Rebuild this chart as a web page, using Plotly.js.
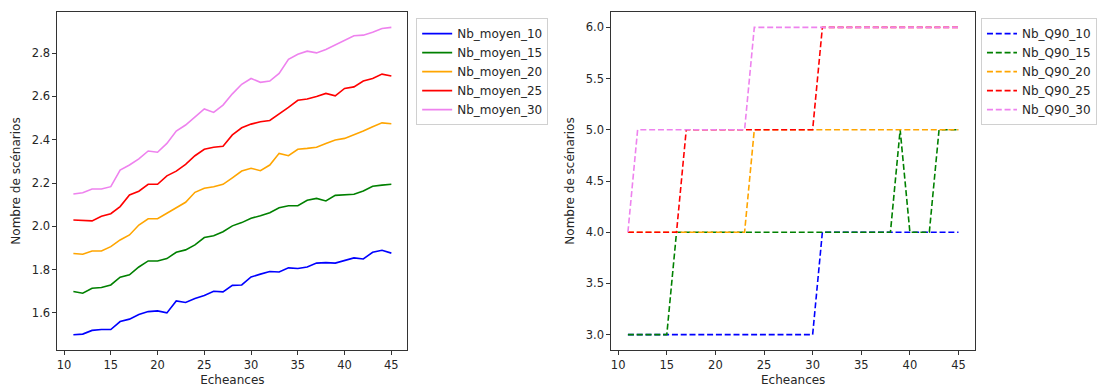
<!DOCTYPE html>
<html>
<head>
<meta charset="utf-8">
<script src="https://cdn.plot.ly/plotly-3.0.1.min.js"></script>
<style>html,body{margin:0;padding:0;background:#fff;}#chart{width:1097px;height:388px;}</style>
</head>
<body>
<div id="chart"></div>
<script>
const echeances = [11,12,13,14,15,16,17,18,19,20,21,22,23,24,25,26,27,28,29,30,31,32,33,34,35,36,37,38,39,40,41,42,43,44,45];

const nbMoyen10 = [1.499,1.502,1.519,1.523,1.523,1.560,1.571,1.592,1.606,1.609,1.600,1.655,1.648,1.666,1.680,1.700,1.697,1.727,1.729,1.766,1.779,1.791,1.789,1.808,1.805,1.812,1.830,1.832,1.830,1.843,1.854,1.849,1.880,1.889,1.876];
const nbMoyen15 = [1.699,1.691,1.714,1.717,1.729,1.765,1.776,1.812,1.840,1.840,1.851,1.880,1.891,1.914,1.948,1.956,1.975,2.002,2.017,2.037,2.049,2.063,2.086,2.095,2.095,2.120,2.129,2.117,2.143,2.145,2.148,2.163,2.185,2.190,2.194];
const nbMoyen20 = [1.874,1.871,1.886,1.886,1.906,1.937,1.960,2.006,2.035,2.035,2.060,2.086,2.111,2.157,2.176,2.183,2.194,2.224,2.255,2.268,2.257,2.283,2.337,2.326,2.356,2.360,2.365,2.383,2.399,2.406,2.422,2.440,2.460,2.478,2.474];
const nbMoyen25 = [2.029,2.028,2.025,2.046,2.058,2.091,2.145,2.162,2.194,2.194,2.233,2.255,2.286,2.326,2.356,2.365,2.370,2.422,2.455,2.472,2.483,2.489,2.517,2.549,2.582,2.588,2.600,2.614,2.603,2.637,2.644,2.671,2.683,2.703,2.694];
const nbMoyen30 = [2.149,2.155,2.172,2.172,2.183,2.260,2.283,2.311,2.348,2.342,2.383,2.440,2.468,2.506,2.542,2.526,2.560,2.612,2.656,2.683,2.665,2.671,2.706,2.771,2.795,2.809,2.801,2.817,2.837,2.860,2.880,2.883,2.896,2.914,2.919];

const nbQ90_10 = [3,3,3,3,3,3,3,3,3,3,3,3,3,3,3,3,3,3,3,3,4,4,4,4,4,4,4,4,4,4,4,4,4,4,4];
const nbQ90_15 = [3,3,3,3,3,4,4,4,4,4,4,4,4,4,4,4,4,4,4,4,4,4,4,4,4,4,4,4,5,4,4,4,5,5,5];
const nbQ90_20 = [4,4,4,4,4,4,4,4,4,4,4,4,4,5,5,5,5,5,5,5,5,5,5,5,5,5,5,5,5,5,5,5,5,5,5];
const nbQ90_25 = [4,4,4,4,4,4,5,5,5,5,5,5,5,5,5,5,5,5,5,5,6,6,6,6,6,6,6,6,6,6,6,6,6,6,6];
const nbQ90_30 = [4,5,5,5,5,5,5,5,5,5,5,5,5,6,6,6,6,6,6,6,6,6,6,6,6,6,6,6,6,6,6,6,6,6,6];

const namesMoyen = ['Nb_moyen_10','Nb_moyen_15','Nb_moyen_20','Nb_moyen_25','Nb_moyen_30'];
const namesQ90 = ['Nb_Q90_10','Nb_Q90_15','Nb_Q90_20','Nb_Q90_25','Nb_Q90_30'];
const colors = ['#0000ff','#008000','#ffa500','#ff0000','#ee82ee'];

const moyenSeries = [nbMoyen10,nbMoyen15,nbMoyen20,nbMoyen25,nbMoyen30];
const q90Series = [nbQ90_10,nbQ90_15,nbQ90_20,nbQ90_25,nbQ90_30];

const traces = [];
moyenSeries.forEach((ys,i)=>{
  traces.push({x:echeances,y:ys,name:namesMoyen[i],type:'scatter',mode:'lines',
    line:{color:colors[i],width:1.6},xaxis:'x',yaxis:'y',legend:'legend'});
});
q90Series.forEach((ys,i)=>{
  traces.push({x:echeances,y:ys,name:namesQ90[i],type:'scatter',mode:'lines',
    line:{color:colors[i],width:1.6,dash:'6px,2.8px'},xaxis:'x2',yaxis:'y2',legend:'legend2'});
});

const font = {family:'DejaVu Sans, sans-serif',size:12,color:'#262626'};
const axisCommon = {showgrid:false,zeroline:false,showline:true,mirror:true,linecolor:'#333',linewidth:1,
  ticks:'outside',ticklen:4,tickwidth:1,tickcolor:'#333',automargin:false,tickfont:{size:11.5,color:'#262626'}};

const layout = {
  width:1097,height:388,
  paper_bgcolor:'#fff',plot_bgcolor:'#fff',
  font:font,
  margin:{l:0,r:0,t:12,b:38},
  showlegend:true,
  xaxis:Object.assign({},axisCommon,{domain:[58/1097,411/1097],range:[9.3,46.7],tickvals:[10,15,20,25,30,35,40,45],
    title:{text:'Echeances',standoff:4,font:{size:12}}}),
  yaxis:Object.assign({},axisCommon,{domain:[0,1],range:[1.4285,2.99],tickvals:[1.6,1.8,2.0,2.2,2.4,2.6,2.8],tickformat:'.1f',
    title:{text:'Nombre de scénarios',standoff:8,font:{size:12}}}),
  xaxis2:Object.assign({},axisCommon,{domain:[617/1097,984/1097],range:[9.3,46.7],tickvals:[10,15,20,25,30,35,40,45],anchor:'y2',
    title:{text:'Echeances',standoff:4,font:{size:12}}}),
  yaxis2:Object.assign({},axisCommon,{domain:[0,1],range:[2.85,6.15],tickvals:[3,3.5,4,4.5,5,5.5,6],tickformat:'.1f',anchor:'x2',
    title:{text:'Nombre de scénarios',standoff:8,font:{size:12}}}),
  legend:{x:420/1097,y:0.982,xanchor:'left',yanchor:'top',xref:'paper',yref:'paper',bgcolor:'rgba(255,255,255,0.8)',
    bordercolor:'#d0d0d0',borderwidth:1,font:{size:12,color:'#262626'},itemwidth:30,tracegroupgap:0},
  legend2:{x:990/1097,y:0.982,xanchor:'left',yanchor:'top',xref:'paper',yref:'paper',bgcolor:'rgba(255,255,255,0.8)',
    bordercolor:'#d0d0d0',borderwidth:1,font:{size:12,color:'#262626'},itemwidth:30,tracegroupgap:0}
};

Plotly.newPlot('chart',traces,layout,{staticPlot:true,displayModeBar:false});
</script>
</body>
</html>
